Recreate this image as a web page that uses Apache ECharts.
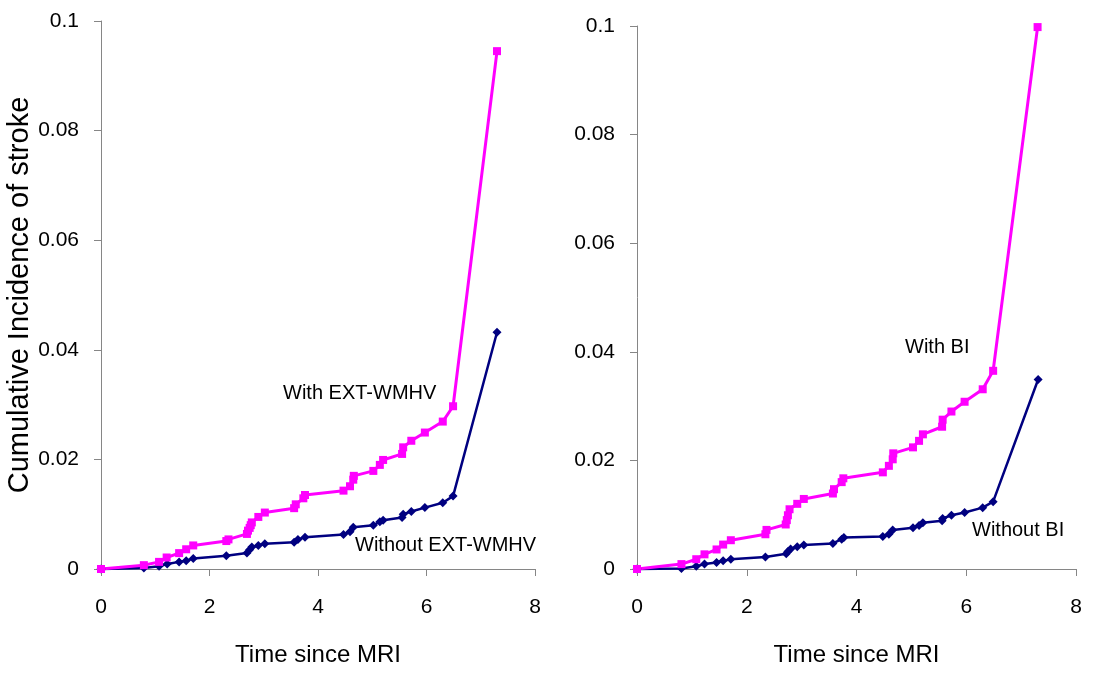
<!DOCTYPE html>
<html>
<head>
<meta charset="utf-8">
<script src="https://cdn.jsdelivr.net/npm/echarts@6/dist/echarts.min.js"></script>
<style>
  html, body { margin: 0; padding: 0; background: #fff; }
  #chart { width: 1093px; height: 673px; }
</style>
</head>
<body>
<div id="chart"></div>
<script>
  const FONT = "'Liberation Sans', Arial, sans-serif";

  // x ticks and y ticks
  const xTicks = [0, 2, 4, 6, 8];
  const yTicks = [0, 0.02, 0.04, 0.06, 0.08, 0.1];

  // left panel: EXT-WMHV
  const withExtT = [0, 0.79, 1.07, 1.21, 1.44, 1.57, 1.70, 2.31, 2.35, 2.69, 2.71, 2.74, 2.76, 2.78, 2.90, 3.02, 3.56, 3.59, 3.73, 3.76, 4.47, 4.59, 4.65, 4.66, 5.02, 5.14, 5.20, 5.55, 5.57, 5.72, 5.97, 6.30, 6.49, 7.30];
  const withExtV = [0, 0.0007, 0.0013, 0.0021, 0.0029, 0.0036, 0.0043, 0.0051, 0.0054, 0.0064, 0.0070, 0.0075, 0.0080, 0.0085, 0.0095, 0.0103, 0.0111, 0.0118, 0.0129, 0.0135, 0.0143, 0.0151, 0.0163, 0.0170, 0.0179, 0.0190, 0.0199, 0.0210, 0.0222, 0.0234, 0.0249, 0.0269, 0.0297, 0.0945];
  const withoutExtT = [0, 0.79, 1.07, 1.22, 1.44, 1.57, 1.70, 2.31, 2.69, 2.74, 2.78, 2.90, 3.02, 3.56, 3.63, 3.76, 4.47, 4.59, 4.65, 5.02, 5.14, 5.20, 5.55, 5.57, 5.72, 5.97, 6.30, 6.49, 7.30];
  const withoutExtV = [0, 0.0002, 0.0005, 0.0009, 0.0013, 0.0015, 0.0019, 0.0024, 0.0029, 0.0035, 0.0040, 0.0043, 0.0046, 0.0049, 0.0054, 0.0058, 0.0063, 0.0068, 0.0076, 0.0080, 0.0086, 0.0089, 0.0094, 0.0100, 0.0105, 0.0112, 0.0121, 0.0133, 0.0432];

  // right panel: BI
  const withBiT = [0, 0.81, 1.08, 1.23, 1.45, 1.57, 1.71, 2.34, 2.36, 2.71, 2.73, 2.75, 2.78, 2.92, 3.04, 3.57, 3.59, 3.73, 3.76, 4.48, 4.59, 4.66, 4.67, 5.03, 5.14, 5.21, 5.56, 5.57, 5.73, 5.97, 6.30, 6.49, 7.30];
  const withBiV = [0, 0.0009, 0.0018, 0.0027, 0.0036, 0.0045, 0.0053, 0.0064, 0.0072, 0.0082, 0.0090, 0.0099, 0.0110, 0.0120, 0.0129, 0.0139, 0.0147, 0.0160, 0.0167, 0.0178, 0.0190, 0.0202, 0.0213, 0.0224, 0.0236, 0.0248, 0.0262, 0.0275, 0.0290, 0.0308, 0.0331, 0.0365, 0.0998];
  const withoutBiT = [0, 0.81, 1.08, 1.23, 1.45, 1.57, 1.71, 2.34, 2.72, 2.75, 2.80, 2.92, 3.04, 3.57, 3.73, 3.77, 4.48, 4.59, 4.66, 5.03, 5.14, 5.21, 5.56, 5.57, 5.73, 5.97, 6.30, 6.49, 7.31];
  const withoutBiV = [0, 0.0001, 0.0005, 0.0009, 0.0012, 0.0015, 0.0018, 0.0022, 0.0028, 0.0032, 0.0037, 0.0041, 0.0044, 0.0047, 0.0055, 0.0058, 0.0060, 0.0064, 0.0072, 0.0076, 0.0080, 0.0085, 0.0089, 0.0093, 0.0099, 0.0104, 0.0113, 0.0124, 0.0349];

  const MAGENTA = '#FF00FF';
  const NAVY = '#000080';
  const AXIS_GREY = '#868686';

  const zip = (t, v) => t.map((x, i) => [x, v[i]]);

  function xAxis(gridIndex) {
    return {
      type: 'value', gridIndex,
      min: xTicks[0], max: xTicks[xTicks.length - 1], interval: 2,
      name: 'Time since MRI', nameLocation: 'middle', nameGap: 74,
      nameTextStyle: { fontFamily: FONT, fontSize: 24, color: '#000' },
      axisLine: { show: true, lineStyle: { color: AXIS_GREY, width: 1 } },
      axisTick: { show: true, inside: false, length: 7, lineStyle: { color: AXIS_GREY } },
      axisLabel: { fontFamily: FONT, fontSize: 21, color: '#000', margin: 28 },
      splitLine: { show: false },
    };
  }

  function yAxis(gridIndex, withName) {
    return {
      type: 'value', gridIndex,
      min: yTicks[0], max: yTicks[yTicks.length - 1], interval: 0.02,
      name: withName ? 'Cumulative Incidence of stroke' : '',
      nameLocation: 'middle', nameGap: 64,
      nameTextStyle: { fontFamily: FONT, fontSize: 29, color: '#000' },
      axisLine: { show: true, lineStyle: { color: AXIS_GREY, width: 1 } },
      axisTick: { show: true, inside: false, length: 7, lineStyle: { color: AXIS_GREY } },
      axisLabel: {
        fontFamily: FONT, fontSize: 21, color: '#000', margin: 22,
        formatter: (v) => String(+v.toFixed(2)),
      },
      splitLine: { show: false },
    };
  }

  function line(data, idx, color, symbol, size, width) {
    return {
      type: 'line', xAxisIndex: idx, yAxisIndex: idx,
      data, symbol, symbolSize: size, clip: false,
      lineStyle: { color, width },
      itemStyle: { color },
      animation: false,
    };
  }

  function label(text, x, y) {
    return {
      type: 'text', left: x, top: y,
      style: { text, fontFamily: FONT, fontSize: 20, fill: '#000' },
    };
  }

  const chart = echarts.init(document.getElementById('chart'), null, { renderer: 'canvas' });
  chart.setOption({
    backgroundColor: '#fff',
    animation: false,
    grid: [
      { left: 101, top: 21, width: 434, height: 548, containLabel: false, outerBoundsMode: 'none' },
      { left: 637, top: 26, width: 439, height: 543, containLabel: false, outerBoundsMode: 'none' },
    ],
    xAxis: [xAxis(0), xAxis(1)],
    yAxis: [yAxis(0, true), yAxis(1, false)],
    series: [
      line(zip(withoutExtT, withoutExtV), 0, NAVY, 'diamond', 9, 2.5),
      line(zip(withExtT, withExtV), 0, MAGENTA, 'rect', 8, 3),
      line(zip(withoutBiT, withoutBiV), 1, NAVY, 'diamond', 9, 2.5),
      line(zip(withBiT, withBiV), 1, MAGENTA, 'rect', 8, 3),
    ],
    graphic: [
      label('With EXT-WMHV', 283, 383),
      label('Without EXT-WMHV', 355, 535),
      label('With BI', 905, 337),
      label('Without BI', 972, 520),
    ],
  });
</script>
</body>
</html>
